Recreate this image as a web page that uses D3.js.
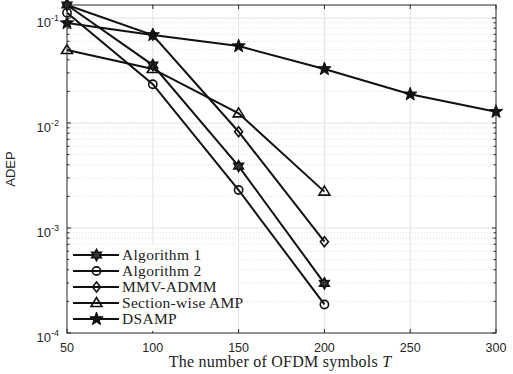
<!DOCTYPE html>
<html><head><meta charset="utf-8">
<script src="https://cdn.jsdelivr.net/npm/d3@7"></script>
<style>body{margin:0;background:#fff}svg{display:block}</style>
</head><body><div id="chart"></div>
<script>
const xT = [50, 100, 150, 200];
const xDSAMP = [50, 100, 150, 200, 250, 300];
const alg1 = [0.133, 0.0356, 0.00389, 0.000297];
const alg2 = [0.112, 0.0234, 0.0023, 0.000187];
const mmv = [0.133, 0.0689, 0.00826, 0.00074];
const swamp = [0.0495, 0.0327, 0.01236, 0.00222];
const dsamp = [0.0895, 0.0689, 0.054, 0.0327, 0.01876, 0.0128];
const seriesNames = ["Algorithm 1", "Algorithm 2", "MMV-ADMM", "Section-wise AMP", "DSAMP"];
const seriesMarkers = ["hexagram", "circle", "diamond", "triangle", "pentagram"];
const xTicks = [50, 100, 150, 200, 250, 300];
const yTicks = [1e-4, 1e-3, 1e-2, 1e-1];
const yTickExp = ["-4", "-3", "-2", "-1"];

const W = 513, H = 374;
const L = 67, R = 496, T = 5, B = 333;
const svg = d3.select("#chart").append("svg").attr("width", W).attr("height", H);
const x = d3.scaleLinear().domain([50, 300]).range([L, R]);
const y = d3.scaleLog().domain([1e-4, 0.133]).range([B, T]);

svg.append("rect").attr("x", L).attr("y", T).attr("width", R - L).attr("height", B - T).attr("fill", "#fff");

const minor = [];
for (let e = -4; e <= -1; e++) for (let m = 2; m <= 9; m++) { const v = m * Math.pow(10, e); if (v < 0.133) minor.push(v); }
svg.append("g").selectAll("line").data(minor).join("line")
  .attr("x1", L).attr("x2", R).attr("y1", d => y(d)).attr("y2", d => y(d))
  .attr("stroke", "#d4d4d4").attr("stroke-width", 0.8).attr("stroke-dasharray", "1,2");
svg.append("g").selectAll("line").data(yTicks.slice(1)).join("line")
  .attr("x1", L).attr("x2", R).attr("y1", d => y(d)).attr("y2", d => y(d))
  .attr("stroke", "#e3e3e3").attr("stroke-width", 1);
svg.append("g").selectAll("line").data(xTicks.slice(1, -1)).join("line")
  .attr("y1", T).attr("y2", B).attr("x1", d => x(d)).attr("x2", d => x(d))
  .attr("stroke", "#e3e3e3").attr("stroke-width", 1);

const series = [
  {v: alg1, xs: xT}, {v: alg2, xs: xT}, {v: mmv, xs: xT}, {v: swamp, xs: xT}, {v: dsamp, xs: xDSAMP}
];
const line = d3.line();

function starPath(n, ro, ri) {
  const pts = [];
  for (let i = 0; i < 2 * n; i++) {
    const a = -Math.PI / 2 + i * Math.PI / n;
    const r = i % 2 === 0 ? ro : ri;
    pts.push([r * Math.cos(a), r * Math.sin(a)]);
  }
  return "M" + pts.map(p => p.join(",")).join("L") + "Z";
}
function drawMarker(g, type, cx, cy) {
  const s = g.append("path").attr("transform", `translate(${cx},${cy})`)
    .attr("stroke", "#111").attr("stroke-width", 1.6).attr("fill", "none");
  if (type === "circle") s.attr("d", d3.symbol(d3.symbolCircle, Math.PI * 17)());
  else if (type === "diamond") s.attr("d", "M0,-5L4,0L0,5L-4,0Z");
  else if (type === "triangle") s.attr("d", "M0,-5.5L5.5,3.5L-5.5,3.5Z");
  else if (type === "hexagram") s.attr("d", starPath(6, 5.5, 3.1)).attr("fill", "#333");
  else if (type === "pentagram") s.attr("d", starPath(5, 7, 2.9)).attr("fill", "#111").attr("stroke-width", 1);
}

const pg = svg.append("g");
series.forEach((s, i) => {
  const pts = s.v.map((v, k) => [x(s.xs[k]), y(v)]);
  pg.append("path").attr("d", line(pts)).attr("fill", "none").attr("stroke", "#111").attr("stroke-width", 2);
  pts.forEach(p => drawMarker(pg, seriesMarkers[i], p[0], p[1]));
});

const ax = svg.append("g");
ax.append("rect").attr("x", L).attr("y", T).attr("width", R - L).attr("height", B - T)
  .attr("fill", "none").attr("stroke", "#262626").attr("stroke-width", 1);
xTicks.forEach(t => {
  ax.append("line").attr("x1", x(t)).attr("x2", x(t)).attr("y1", B).attr("y2", B - 4).attr("stroke", "#262626");
  ax.append("line").attr("x1", x(t)).attr("x2", x(t)).attr("y1", T).attr("y2", T + 4).attr("stroke", "#262626");
  ax.append("text").attr("x", x(t)).attr("y", 351.5).attr("text-anchor", "middle")
    .attr("font-family", "Liberation Sans, Arial, sans-serif").attr("font-size", 12.5).attr("fill", "#262626").text(t);
});
yTicks.forEach((t, i) => {
  ax.append("line").attr("x1", L).attr("x2", L + 4).attr("y1", y(t)).attr("y2", y(t)).attr("stroke", "#262626");
  ax.append("line").attr("x1", R).attr("x2", R - 4).attr("y1", y(t)).attr("y2", y(t)).attr("stroke", "#262626");
  const tx = ax.append("text").attr("x", 59).attr("y", y(t) + 8.5).attr("text-anchor", "end")
    .attr("font-family", "Liberation Sans, Arial, sans-serif").attr("font-size", 13).attr("fill", "#262626");
  tx.append("tspan").text("10");
  tx.append("tspan").attr("dy", -6).attr("font-size", 9).text(yTickExp[i]);
});
minor.forEach(t => {
  ax.append("line").attr("x1", L).attr("x2", L + 2.5).attr("y1", y(t)).attr("y2", y(t)).attr("stroke", "#262626");
  ax.append("line").attr("x1", R).attr("x2", R - 2.5).attr("y1", y(t)).attr("y2", y(t)).attr("stroke", "#262626");
});

const xl = svg.append("text").attr("x", 280).attr("y", 367).attr("text-anchor", "middle")
  .attr("font-family", "Liberation Serif, Times New Roman, serif").attr("font-size", 16).attr("letter-spacing", 0.25).attr("fill", "#222");
xl.append("tspan").text("The number of OFDM symbols ");
xl.append("tspan").attr("font-style", "italic").text("T");
svg.append("text").attr("transform", `translate(15,${(T + B) / 2}) rotate(-90)`).attr("text-anchor", "middle")
  .attr("font-family", "Liberation Sans, Arial, sans-serif").attr("font-size", 13).attr("fill", "#262626").text("ADEP");

const lg = svg.append("g");
lg.append("rect").attr("x", 69).attr("y", 245).attr("width", 168).attr("height", 86).attr("fill", "#fff");
seriesNames.forEach((n, i) => {
  const ly = 255 + i * 16;
  lg.append("line").attr("x1", 73).attr("x2", 119).attr("y1", ly).attr("y2", ly).attr("stroke", "#111").attr("stroke-width", 2);
  drawMarker(lg, seriesMarkers[i], 96.5, ly);
  lg.append("text").attr("x", 122).attr("y", ly + 5)
    .attr("font-family", "Liberation Serif, Times New Roman, serif").attr("font-size", 15.5).attr("letter-spacing", 0.3).attr("fill", "#222").text(n);
});
</script></body></html>
